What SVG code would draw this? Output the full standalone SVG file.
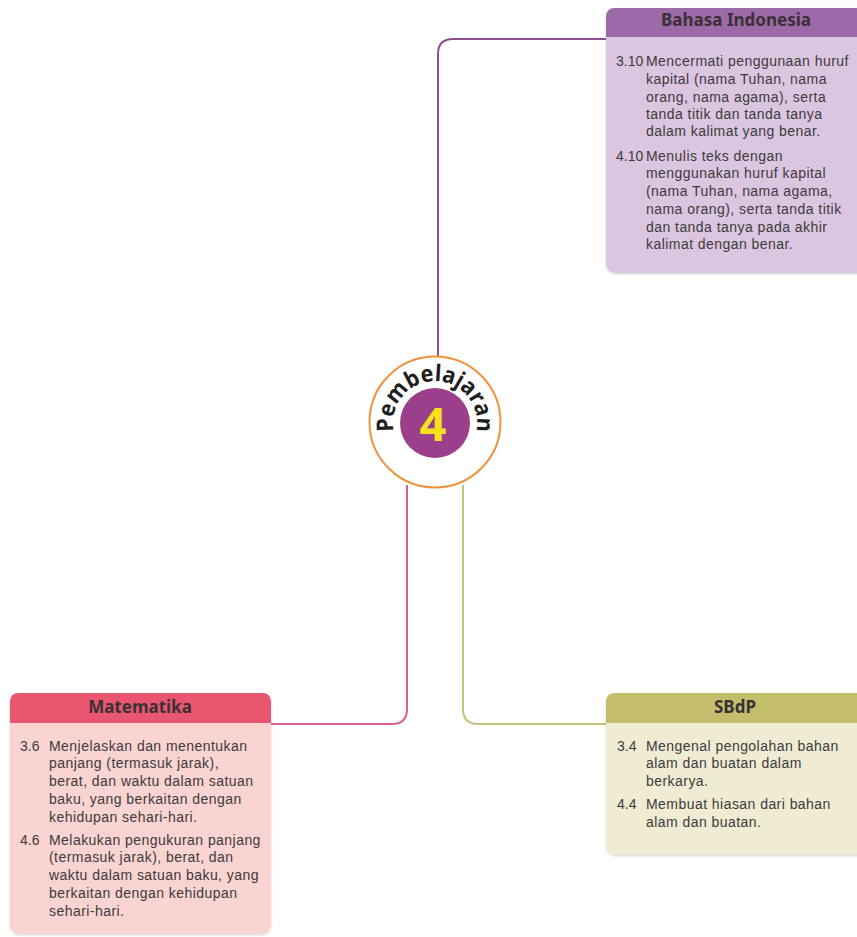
<svg xmlns="http://www.w3.org/2000/svg" width="857" height="937" viewBox="0 0 857 937">
<defs>
<style>
.title{font-family:"Noto Sans","Liberation Sans",sans-serif;font-weight:bold;font-size:17px;fill:#3a3036;text-anchor:middle}
.body{font-family:"Liberation Sans","Arial",sans-serif;font-size:14px;letter-spacing:0.45px;fill:#3d3a3c}
.num{letter-spacing:0}
.conn{fill:none;stroke-width:2}
.arc{font-family:"Noto Sans","DejaVu Sans",sans-serif;font-weight:bold;font-size:23px;fill:#1e1e1e}
</style>
<path id="arcPath" d="M 394.4 433.9 A 42 42 0 1 1 475.6 433.9"/>
<filter id="sh" x="-5%" y="-5%" width="110%" height="110%"><feDropShadow dx="0" dy="1" stdDeviation="1.2" flood-color="#000" flood-opacity="0.18"/></filter>
</defs>
<rect width="857" height="937" fill="#ffffff"/>
<g id="connectors">
<path class="conn" stroke="#8d4f8f" d="M 606 39 H 453 Q 438 39 438 54 V 358"/>
<path class="conn" stroke="#d9637c" d="M 271 724 H 392 Q 407 724 407 709 V 485"/>
<path class="conn" stroke="#c3c27a" d="M 606 724 H 478 Q 463 724 463 709 V 485"/>
</g>
<g id="center">
<circle cx="435" cy="422" r="65.5" fill="#ffffff" stroke="#f0913c" stroke-width="2"/>
<circle cx="435" cy="423" r="35" fill="#9c3f8b"/>
<text x="433" y="441" font-family="Noto Sans, DejaVu Sans, sans-serif" font-weight="bold" font-size="47" fill="#f7e21a" text-anchor="middle">4</text>
<text class="arc"><textPath href="#arcPath" startOffset="50%" text-anchor="middle" textLength="148" lengthAdjust="spacingAndGlyphs">Pembelajaran</textPath></text>
</g>
<g id="bahasa-indonesia">
<rect x="606" y="8" width="270" height="265" rx="9" fill="#dcc5e0" filter="url(#sh)"/>
<path d="M 606 37 V 17 Q 606 8 615 8 H 876 V 37 Z" fill="#9d6aa8"/>
<text class="title" x="736" y="26">Bahasa Indonesia</text>
<text class="body num" x="616" y="66">3.10</text>
<text class="body" x="646" y="66">Mencermati penggunaan huruf</text>
<text class="body" x="646" y="84">kapital (nama Tuhan, nama</text>
<text class="body" x="646" y="102">orang, nama agama), serta</text>
<text class="body" x="646" y="119">tanda titik dan tanda tanya</text>
<text class="body" x="646" y="136">dalam kalimat yang benar.</text>
<text class="body num" x="616" y="161">4.10</text>
<text class="body" x="646" y="161">Menulis teks dengan</text>
<text class="body" x="646" y="178">menggunakan huruf kapital</text>
<text class="body" x="646" y="196">(nama Tuhan, nama agama,</text>
<text class="body" x="646" y="214">nama orang), serta tanda titik</text>
<text class="body" x="646" y="232">dan tanda tanya pada akhir</text>
<text class="body" x="646" y="249">kalimat dengan benar.</text>
</g>
<g id="matematika">
<rect x="10" y="693" width="261" height="241" rx="9" fill="#f9d4d1" filter="url(#sh)"/>
<path d="M 10 723 V 702 Q 10 693 19 693 H 262 Q 271 693 271 702 V 723 Z" fill="#e9566f"/>
<text class="title" x="140" y="713">Matematika</text>
<text class="body num" x="20" y="751">3.6</text>
<text class="body" x="49" y="751">Menjelaskan dan menentukan</text>
<text class="body" x="49" y="768">panjang (termasuk jarak),</text>
<text class="body" x="49" y="786">berat, dan waktu dalam satuan</text>
<text class="body" x="49" y="804">baku, yang berkaitan dengan</text>
<text class="body" x="49" y="822">kehidupan sehari-hari.</text>
<text class="body num" x="20" y="845">4.6</text>
<text class="body" x="49" y="845">Melakukan pengukuran panjang</text>
<text class="body" x="49" y="862">(termasuk jarak), berat, dan</text>
<text class="body" x="49" y="880">waktu dalam satuan baku, yang</text>
<text class="body" x="49" y="898">berkaitan dengan kehidupan</text>
<text class="body" x="49" y="916">sehari-hari.</text>
</g>
<g id="sbdp">
<rect x="606" y="693" width="270" height="162" rx="9" fill="#efecd3" filter="url(#sh)"/>
<path d="M 606 723 V 702 Q 606 693 615 693 H 876 V 723 Z" fill="#c4be6c"/>
<text class="title" x="735" y="713">SBdP</text>
<text class="body num" x="617" y="751">3.4</text>
<text class="body" x="646" y="751">Mengenal pengolahan bahan</text>
<text class="body" x="646" y="768">alam dan buatan dalam</text>
<text class="body" x="646" y="786">berkarya.</text>
<text class="body num" x="617" y="809">4.4</text>
<text class="body" x="646" y="809">Membuat hiasan dari bahan</text>
<text class="body" x="646" y="827">alam dan buatan.</text>
</g>
</svg>
